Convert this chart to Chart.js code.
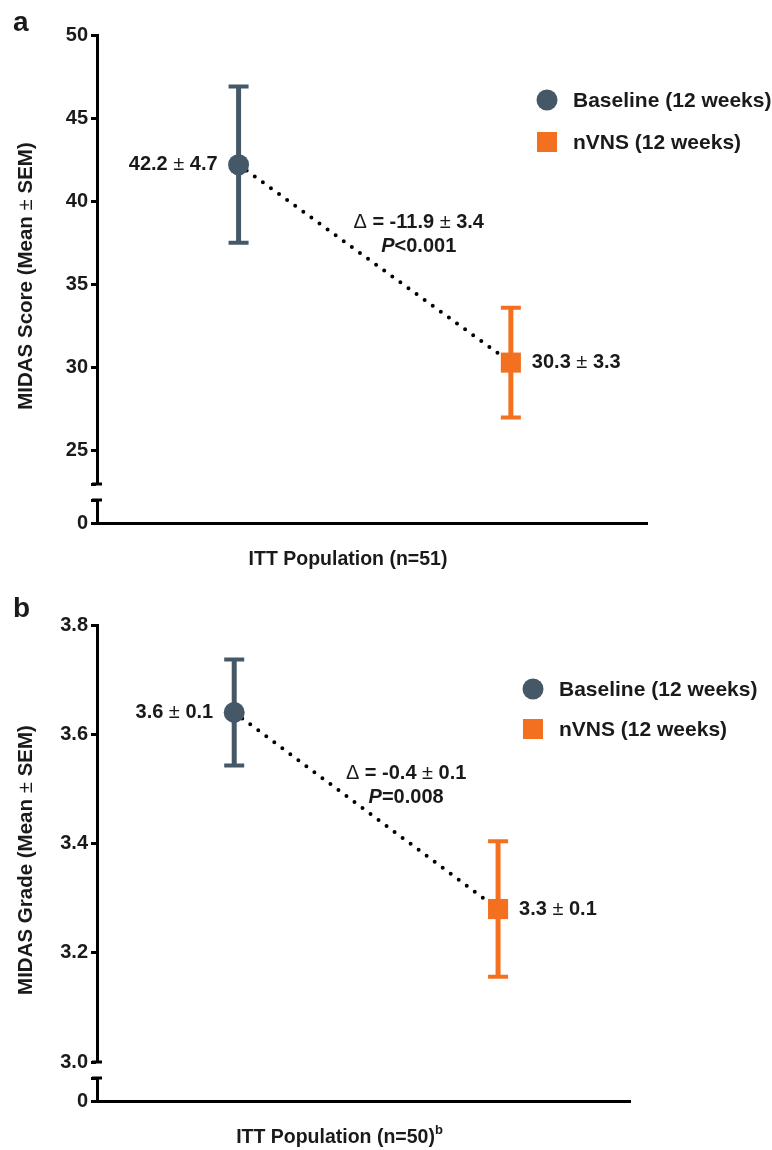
<!DOCTYPE html>
<html>
<head>
<meta charset="utf-8">
<script src="https://cdn.jsdelivr.net/npm/chart.js@4.4.1/dist/chart.umd.min.js"></script>
<style>
  html, body { margin: 0; padding: 0; background: #ffffff; }
  #page { position: relative; width: 772px; height: 1150px; overflow: hidden; background: #ffffff; }
  .box { position: absolute; left: 0; width: 772px; }
</style>
</head>
<body>
<div id="page">
  <div class="box" style="top:0px;height:499px"><canvas id="aTop"></canvas></div>
  <div class="box" style="top:485px;height:88px"><canvas id="aBot"></canvas></div>
  <div class="box" style="top:590px;height:487px"><canvas id="bTop"></canvas></div>
  <div class="box" style="top:1063px;height:87px"><canvas id="bBot"></canvas></div>
</div>
<script>
// ---------------- data ----------------
const categories = ['Baseline (12 weeks)', 'nVNS (12 weeks)'];

const scoreMeans = [42.2, 30.3];
const scoreSems = [4.7, 3.3];
const scoreTicks = [25, 30, 35, 40, 45, 50];
const scoreBreak = 23;
const scoreDelta = ['-11.9', '3.4'];
const scoreP = ['P', '<0.001'];

const gradeMeans = [3.64, 3.28];
const gradeSems = [0.097, 0.124];
const gradeTicks = [3.0, 3.2, 3.4, 3.6, 3.8];
const gradeBreak = 3.0;
const gradeDelta = ['-0.4', '0.1'];
const gradeP = ['P', '=0.008'];

const stubTicks = [0];
const stubTop = 1;

const colors = ['#455868', '#F37021'];
const pointStyles = ['circle', 'rect'];

// ---------------- helpers ----------------
const FONT = "'Liberation Sans', Arial, Helvetica, sans-serif";
const INK = '#1a1a1a';
function fnt(size, weight, style) { return `${style || 'normal'} ${weight || 'bold'} ${size}px ${FONT}`; }

function drawRuns(ctx, runs, x, y, align) {
  let total = 0;
  runs.forEach(r => { ctx.font = r.font; r.w = ctx.measureText(r.text).width; total += r.w; });
  let cx = align === 'right' ? x - total : (align === 'center' ? x - total / 2 : x);
  ctx.textAlign = 'left';
  runs.forEach(r => { ctx.font = r.font; ctx.fillText(r.text, cx, y + (r.dy || 0)); cx += r.w; });
}

const axisGrid = { display: true, drawOnChartArea: false, drawTicks: true, tickLength: 6, tickWidth: 3, tickColor: '#000' };
const axisBorder = { display: true, width: 3, color: '#000' };
const tickFont = { family: FONT, size: 20, weight: 'bold' };

// short cap across the axis line at the break (both sides of the axis)
function breakCapPlugin(edge) {
  return {
    id: 'breakCap',
    afterDraw(chart) {
      const ctx = chart.ctx, ys = chart.scales.y;
      const y = edge === 'bottom' ? ys.bottom : ys.top;
      ctx.save();
      ctx.strokeStyle = '#000';
      ctx.lineWidth = 3;
      ctx.beginPath();
      ctx.moveTo(ys.right - 5, y);
      ctx.lineTo(ys.right + 5, y);
      ctx.stroke();
      ctx.restore();
    }
  };
}

// ---------------- plugins ----------------
const errorBarPlugin = {
  id: 'errorBars',
  beforeDatasetsDraw(chart) {
    const ctx = chart.ctx, ys = chart.scales.y;
    chart.data.datasets.forEach((ds, di) => {
      if (!ds.sem) return;
      const meta = chart.getDatasetMeta(di);
      meta.data.forEach((pt, i) => {
        const v = ds.data[i].y, s = ds.sem[i];
        const yTop = ys.getPixelForValue(v + s), yBot = ys.getPixelForValue(v - s);
        ctx.save();
        ctx.strokeStyle = ds.borderColor;
        ctx.lineCap = 'butt';
        ctx.lineWidth = 5;
        ctx.beginPath(); ctx.moveTo(pt.x, yTop); ctx.lineTo(pt.x, yBot); ctx.stroke();
        ctx.lineWidth = 4;
        ctx.beginPath();
        ctx.moveTo(pt.x - 10, yTop); ctx.lineTo(pt.x + 10, yTop);
        ctx.moveTo(pt.x - 10, yBot); ctx.lineTo(pt.x + 10, yBot);
        ctx.stroke();
        ctx.restore();
      });
    });
  }
};

function annotationPlugin(p) {
  return {
    id: 'annot',
    afterDatasetsDraw(chart) {
      const ctx = chart.ctx;
      const ca = chart.chartArea;
      ctx.save();
      ctx.fillStyle = INK;
      ctx.textBaseline = 'middle';
      // value labels
      const pts = [];
      categories.forEach((c, i) => {
        const pt = chart.getDatasetMeta(i).data[0];
        pts.push(pt);
        const runs = [
          { text: p.means[i].toFixed(1), font: fnt(20) },
          { text: ' \u00B1 ', font: fnt(20, 'normal') },
          { text: p.sems[i].toFixed(1), font: fnt(20) }
        ];
        if (i === 0) drawRuns(ctx, runs, pt.x - 21, pt.y, 'right');
        else drawRuns(ctx, runs, pt.x + 21, pt.y, 'left');
      });
      // delta annotation
      const mx = (pts[0].x + pts[1].x) / 2 + p.deltaDx;
      const my = (pts[0].y + pts[1].y) / 2 + p.deltaDy;
      drawRuns(ctx, [
        { text: '\u0394', font: fnt(20, 'normal') },
        { text: ' = ' + p.delta[0] + ' ', font: fnt(20) },
        { text: '\u00B1', font: fnt(20, 'normal') },
        { text: ' ' + p.delta[1], font: fnt(20) }
      ], mx, my, 'center');
      drawRuns(ctx, [
        { text: p.pval[0], font: fnt(20, 'bold', 'italic') },
        { text: p.pval[1], font: fnt(20) }
      ], mx, my + 24, 'center');
      // legend
      categories.forEach((c, i) => {
        const lx = p.legendX, ly = p.legendY + i * p.legendGap;
        ctx.fillStyle = colors[i];
        if (pointStyles[i] === 'circle') {
          ctx.beginPath(); ctx.arc(lx, ly, 10.5, 0, Math.PI * 2); ctx.fill();
        } else {
          ctx.fillRect(lx - 10, ly - 10, 20, 20);
        }
        ctx.fillStyle = INK;
        ctx.font = fnt(21);
        ctx.textAlign = 'left';
        ctx.fillText(c, lx + 26, ly + 1);
      });
      // y-axis title (spans upper axis + stub)
      ctx.save();
      ctx.translate(26, (ca.top + ca.bottom + 33) / 2);
      ctx.rotate(-Math.PI / 2);
      drawRuns(ctx, [
        { text: p.yTitle + ' (Mean ', font: fnt(20.5) },
        { text: '\u00B1', font: fnt(20.5, 'normal') },
        { text: ' SEM)', font: fnt(20.5) }
      ], 0, 0, 'center');
      ctx.restore();
      // panel letter
      ctx.textBaseline = 'alphabetic';
      ctx.font = fnt(28);
      ctx.textAlign = 'left';
      ctx.fillText(p.letter, 13, p.letterY);
      ctx.restore();
    }
  };
}

function xTitlePlugin(p) {
  return {
    id: 'xTitle',
    afterDraw(chart) {
      const ctx = chart.ctx, ca = chart.chartArea;
      ctx.save();
      ctx.fillStyle = INK;
      ctx.textBaseline = 'middle';
      const runs = [{ text: p.xTitle, font: fnt(19.5) }];
      if (p.xSup) runs.push({ text: p.xSup, font: fnt(13), dy: -8 });
      drawRuns(ctx, runs, (ca.left + ca.right) / 2 - 24, ca.bottom + 37, 'center');
      ctx.restore();
    }
  };
}

// ---------------- charts ----------------
function topChart(id, p) {
  const datasets = categories.map((c, i) => ({
    label: c,
    data: [{ x: i * 2 + 1, y: p.means[i] }],
    sem: [p.sems[i]],
    backgroundColor: colors[i],
    borderColor: colors[i],
    pointStyle: pointStyles[i],
    pointRadius: pointStyles[i] === 'rect' ? 14.2 : 10.5,
    pointBorderWidth: 0,
    order: 1
  }));
  datasets.push({
    label: 'change',
    data: categories.map((c, i) => ({ x: i * 2 + 1, y: p.means[i] })),
    showLine: true,
    borderColor: '#000',
    borderWidth: 4,
    borderDash: [0, 10],
    borderCapStyle: 'round',
    pointRadius: 0,
    order: 5
  });
  const allTicks = Array.from(new Set([p.brk, ...p.ticks])).sort((a, b) => a - b);
  return new Chart(document.getElementById(id), {
    type: 'scatter',
    data: { datasets },
    options: {
      responsive: true, maintainAspectRatio: false, animation: false, events: [],
      layout: { padding: { top: 35, bottom: 15, left: 0, right: p.padRight } },
      plugins: { legend: { display: false }, tooltip: { enabled: false } },
      scales: {
        x: { type: 'linear', min: -0.04, max: 4, display: false },
        y: {
          type: 'linear', min: p.brk, max: p.ticks[p.ticks.length - 1],
          afterBuildTicks: s => { s.ticks = allTicks.map(v => ({ value: v })); },
          afterFit: s => { s.width = 97; },
          ticks: {
            autoSkip: false, padding: 3, color: INK, font: tickFont,
            callback: v => (p.ticks.some(t => Math.abs(t - v) < 1e-9) ? p.fmt(v) : '')
          },
          grid: axisGrid,
          border: axisBorder
        }
      }
    },
    plugins: [errorBarPlugin, annotationPlugin(p), breakCapPlugin('bottom')]
  });
}

function stubChart(id, p) {
  return new Chart(document.getElementById(id), {
    type: 'scatter',
    data: { datasets: [{ data: [] }] },
    options: {
      responsive: true, maintainAspectRatio: false, animation: false, events: [],
      layout: { padding: { top: 14, bottom: 0, left: 0, right: p.padRight } },
      plugins: { legend: { display: false }, tooltip: { enabled: false } },
      scales: {
        x: {
          type: 'linear', min: -0.04, max: 4,
          grid: { display: false }, ticks: { display: false },
          border: axisBorder,
          afterFit: s => { s.height = p.xAxisH; }
        },
        y: {
          type: 'linear', min: 0, max: stubTop,
          afterBuildTicks: s => { s.ticks = [...stubTicks, stubTop].map(v => ({ value: v })); },
          afterFit: s => { s.width = 97; },
          ticks: {
            autoSkip: false, padding: 3, color: INK, font: tickFont,
            callback: v => (stubTicks.includes(v) ? String(v) : '')
          },
          grid: axisGrid,
          border: axisBorder
        }
      }
    },
    plugins: [xTitlePlugin(p), breakCapPlugin('top')]
  });
}

const panelA = {
  means: scoreMeans, sems: scoreSems, ticks: scoreTicks, brk: scoreBreak,
  fmt: v => String(v), delta: scoreDelta, pval: scoreP,
  deltaDx: 44, deltaDy: -41,
  legendX: 547, legendY: 100, legendGap: 42,
  yTitle: 'MIDAS Score', letter: 'a', letterY: 31,
  padRight: 125, xAxisH: 50, xTitle: 'ITT Population (n=51)', xSup: ''
};
const panelB = {
  means: gradeMeans, sems: gradeSems, ticks: gradeTicks, brk: gradeBreak,
  fmt: v => v.toFixed(1), delta: gradeDelta, pval: gradeP,
  deltaDx: 40, deltaDy: -37,
  legendX: 533, legendY: 99, legendGap: 40,
  yTitle: 'MIDAS Grade', letter: 'b', letterY: 27,
  padRight: 142, xAxisH: 49, xTitle: 'ITT Population (n=50)', xSup: 'b'
};

topChart('aTop', panelA);
stubChart('aBot', panelA);
topChart('bTop', panelB);
stubChart('bBot', panelB);
</script>
</body>
</html>
